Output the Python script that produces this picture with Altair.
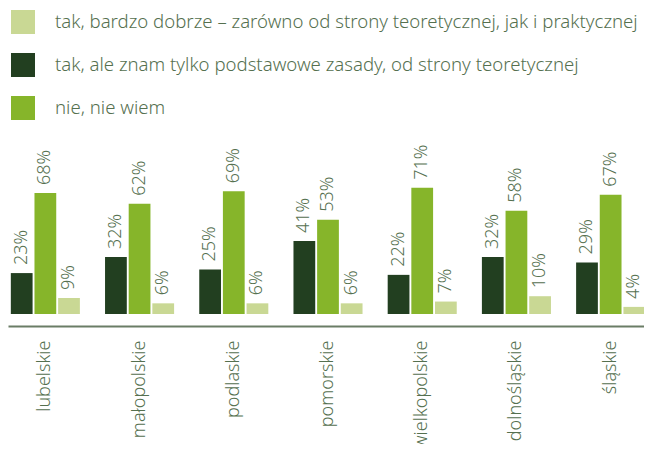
import altair as alt
import pandas as pd

regions = ["lubelskie", "małopolskie", "podlaskie", "pomorskie",
           "wielkopolskie", "dolnośląskie", "śląskie"]
s_light = "tak, bardzo dobrze – zarówno od strony teoretycznej, jak i praktycznej"
s_dark = "tak, ale znam tylko podstawowe zasady, od strony teoretycznej"
s_mid = "nie, nie wiem"

dark_vals = [23, 32, 25, 41, 22, 32, 29]
mid_vals = [68, 62, 69, 53, 71, 58, 67]
light_vals = [9, 6, 6, 6, 7, 10, 4]

legend_order = [s_light, s_dark, s_mid]
bar_order = [s_dark, s_mid, s_light]
colors = ["#c9d894", "#223f20", "#86b52a"]

rows = []
for series, vals in [(s_dark, dark_vals), (s_mid, mid_vals), (s_light, light_vals)]:
    for r, v in zip(regions, vals):
        rows.append({"region": r, "series": series, "value": v, "label": f"{v}%"})
df = pd.DataFrame(rows)

text_color = "#55704f"
font = "Noto Sans"

base = alt.Chart(df).encode(
    x=alt.X("region:N", sort=regions, title=None,
            scale=alt.Scale(paddingInner=0.267, paddingOuter=0.03, range=[0, 640]),
            axis=alt.Axis(labelAngle=270, labelAlign="right", labelBaseline="middle",
                          labelFontSize=18, labelFont=font, labelFontWeight=300,
                          labelColor=text_color, labelPadding=14, ticks=False,
                          domainColor="#6a7d66", domainWidth=2, offset=12,
                          labelLimit=300)),
    xOffset=alt.XOffset("series:N", sort=bar_order,
                        scale=alt.Scale(domain=bar_order, paddingInner=0.08, paddingOuter=0)),
    y=alt.Y("value:Q", scale=alt.Scale(domain=[0, 172]), axis=None),
)

bars = base.mark_bar().encode(
    color=alt.Color("series:N",
                    scale=alt.Scale(domain=legend_order, range=colors),
                    legend=alt.Legend(title=None, orient="none", legendX=3, legendY=2,
                                      symbolType="square", symbolSize=576,
                                      symbolStrokeWidth=0, symbolOpacity=1,
                                      labelFontSize=18.6, labelFont=font,
                                      labelFontWeight=300,
                                      labelColor=text_color, labelOffset=20,
                                      rowPadding=19, labelLimit=700, padding=0))
)

labels = base.mark_text(angle=270, align="left", baseline="middle", dx=8,
                        fontSize=18, font=font, fontWeight=300,
                        color=text_color).encode(text="label:N")

chart = alt.layer(bars, labels).properties(
    width=636, height=306,
    autosize=alt.AutoSizeParams(type="none"),
    padding={"left": 0, "top": 0, "right": 0, "bottom": 130},
).configure_view(stroke=None)

chart.save("out.html", embed_options={"renderer": "svg", "actions": False})
